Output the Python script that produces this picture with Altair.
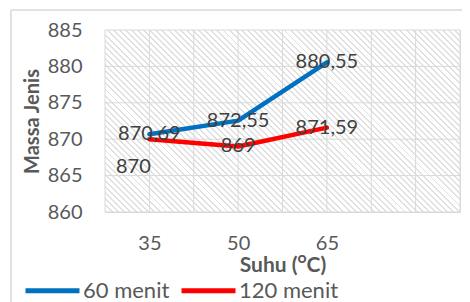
import altair as alt
import pandas as pd

# ---- data ----
suhu = [35, 50, 65]
menit60 = [870.69, 872.55, 880.55]
menit120 = [870, 869, 871.59]
series = ["60 menit", "120 menit"]
y_ticks = [860, 865, 870, 875, 880, 885]
x_labels = [35, 50, 65]
x_grid = [27.5, 35, 42.5, 50, 57.5, 65, 72.5, 80, 87.5]


def fmt(v):
    s = f"{v:.2f}".rstrip("0").rstrip(".")
    return s.replace(".", ",")


rows = []
for s, vals in zip(series, [menit60, menit120]):
    for i, (x, v) in enumerate(zip(suhu, vals)):
        rows.append({"suhu": x, "value": v, "series": s, "label": fmt(v), "idx": i})
df = pd.DataFrame(rows)

W, H = 355, 182
FONT = "Lato"
GRAY = "#595959"
GRID = "#D9D9D9"
BLUE = "#0070C0"
RED = "#FF0000"

# diagonal hatch via a striped linear gradient (bbox space)
r = H / W
s_len = (1 + r) / (1 + r * r)
n_stripes = 88
stops = []
for k in range(n_stripes):
    a = k / n_stripes
    b = (k + 0.32) / n_stripes
    c = (k + 1) / n_stripes
    stops += [
        {"offset": a, "color": "#E0E0E0"},
        {"offset": b, "color": "#E0E0E0"},
        {"offset": b, "color": "#FFFFFF"},
        {"offset": c, "color": "#FFFFFF"},
    ]
hatch = {"gradient": "linear", "x1": 0, "y1": 1, "x2": s_len, "y2": 1 - s_len * r, "stops": stops}

x_axis = alt.Axis(
    values=x_grid,
    labelExpr=f"indexof({x_labels}, datum.value) >= 0 ? datum.label : ''",
    grid=False,
    ticks=False, tickSize=0, domain=True, domainColor=GRID,
    labelFont=FONT, labelFontSize=20, labelColor=GRAY,
    labelPadding=21, labelOverlap=False, labelFlush=False,
    title="Suhu (ᴼC)", titleFont=FONT, titleFontSize=21, titleFontWeight="bold",
    titleColor=GRAY, titleX=W / 2, titleY=59, titleBaseline="alphabetic",
)
y_axis = alt.Axis(
    values=y_ticks, grid=False,
    ticks=False, tickSize=0, domain=False,
    labelFont=FONT, labelFontSize=20, labelColor=GRAY, labelPadding=23,
    labelOverlap=False, labelFlush=False,
    title="Massa Jenis", titleFont=FONT, titleFontSize=20, titleFontWeight="bold",
    titleColor=GRAY, titleX=-67, titleY=H / 2, titleBaseline="alphabetic",
)
x_scale = alt.Scale(domain=[27.5, 87.5], nice=False, zero=False)
y_scale = alt.Scale(domain=[860, 885], nice=False, zero=False)
legend = alt.Legend(
    title=None, orient="none", direction="horizontal",
    legendX=-82, legendY=231,
    symbolType="stroke", symbolSize=2916, symbolStrokeWidth=5,
    labelFont=FONT, labelFontSize=22, labelColor=GRAY,
    labelOffset=1, columnPadding=1, padding=0,
)


def enc_x(field="suhu"):
    return alt.X(f"{field}:Q", scale=x_scale, axis=x_axis)


def enc_y(field="value"):
    return alt.Y(f"{field}:Q", scale=y_scale, axis=y_axis)


def enc_c():
    return alt.Color("series:N", scale=alt.Scale(domain=series, range=[BLUE, RED]), legend=legend)


bg = alt.Chart(alt.Data(values=[{}])).mark_rect(fill=hatch).encode(
    x=alt.value(0), x2=alt.value("width"), y=alt.value(0), y2=alt.value("height")
)

vgrid = alt.Chart(alt.Data(values=[{"g": v} for v in x_grid])).mark_rule(
    color=GRID, strokeWidth=1
).encode(x=enc_x("g"), y=alt.value(0), y2=alt.value("height"))
hgrid = alt.Chart(alt.Data(values=[{"g": v} for v in y_ticks])).mark_rule(
    color=GRID, strokeWidth=1
).encode(y=enc_y("g"), x=alt.value(0), x2=alt.value("width"))

border_top = alt.Chart(alt.Data(values=[{}])).mark_rule(color=GRID, strokeWidth=1.5).encode(
    x=alt.value(-94), x2=alt.value(W + 60), y=alt.value(-20)
)
border_left = alt.Chart(alt.Data(values=[{}])).mark_rule(color=GRID, strokeWidth=1.5).encode(
    x=alt.value(-94), y=alt.value(-20), y2=alt.value(H + 120)
)

base = alt.Chart(df)
line_blue = base.transform_filter(alt.datum.series == series[0]).mark_line(
    strokeWidth=4.5, strokeCap="round", strokeJoin="round"
).encode(x=enc_x(), y=enc_y(), color=enc_c())
line_red = base.transform_filter(alt.datum.series == series[1]).mark_line(
    strokeWidth=4.5, strokeCap="round", strokeJoin="round"
).encode(x=enc_x(), y=enc_y(), color=enc_c())

labels_main = base.transform_filter(
    (alt.datum.series == series[0]) | (alt.datum.idx > 0)
).mark_text(font=FONT, fontSize=20, color="#404040", align="center", baseline="middle").encode(
    x=enc_x(), y=enc_y(), text="label:N"
)
label_low = base.transform_filter(
    (alt.datum.series == series[1]) & (alt.datum.idx == 0)
).mark_text(font=FONT, fontSize=20, color="#404040", align="center", baseline="middle", dx=-16, dy=28).encode(
    x=enc_x(), y=enc_y(), text="label:N"
)

chart = alt.layer(
    bg, vgrid, hgrid, border_top, border_left, line_blue, line_red, labels_main, label_low
).properties(
    width=W, height=H,
    autosize=alt.AutoSizeParams(type="none"),
    padding={"left": 97, "top": 22, "right": 2, "bottom": 90},
).configure_view(stroke=GRID, strokeWidth=1).configure(background="white")

chart.save("out.html", embed_options={"renderer": "svg", "actions": False})
